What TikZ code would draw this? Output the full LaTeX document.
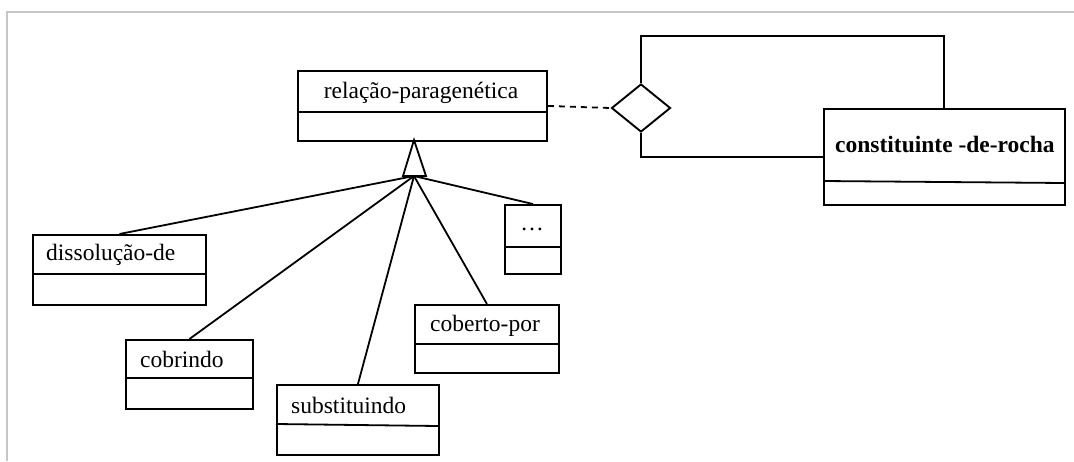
\documentclass[tikz,border=0pt]{standalone}
\usepackage{fontspec}
\setmainfont{Liberation Serif}
\usetikzlibrary{shapes.geometric}
\tikzset{
  umlbox/.style={draw, line width=1.9pt, inner sep=0pt, anchor=north west},
  lbl/.style={font=\fontsize{23.5}{28}\selectfont, inner sep=0pt, anchor=base west},
  conn/.style={line width=1.8pt},
  frame/.style={draw=black!22, line width=2pt},
}
\begin{document}
\begin{tikzpicture}[x=1pt,y=-1pt]
\useasboundingbox (0,0) rectangle (1074,461);
\draw[frame] (7,461) -- (7,12) -- (1074,12);

% classes
\node[umlbox, minimum width=249, minimum height=70] (rel) at (297,70) {};
\draw[conn] (297,112) -- (546,112);
\node[lbl, anchor=base] (relt) at (421,98) {relação-paragenética};

\node[umlbox, minimum width=241, minimum height=96] (cdr) at (823,108) {};
\draw[conn] (823,181) -- (1064,183);
\node[lbl, anchor=base west, font=\fontsize{23.5}{28}\selectfont\bfseries] (cdrt) at (835,152) {constituinte -de-rocha};

\node[umlbox, minimum width=173, minimum height=70] (dis) at (32,234) {};
\draw[conn] (32,274) -- (205,274);
\node[lbl] (dist) at (46,260) {dissolução-de};

\node[umlbox, minimum width=127, minimum height=69] (cob) at (125,339) {};
\draw[conn] (125,378) -- (252,378);
\node[lbl] (cobt) at (140,367) {cobrindo};

\node[umlbox, minimum width=162, minimum height=70] (sub) at (276,384) {};
\draw[conn] (276,424) -- (438,426);
\node[lbl] (subt) at (291,413) {substituindo};

\node[umlbox, minimum width=144, minimum height=68] (cpo) at (414,304) {};
\draw[conn] (414,344) -- (558,344);
\node[lbl] (cpot) at (430,331) {coberto-por};

\node[umlbox, minimum width=56, minimum height=69] (etc) at (504,204) {};
\draw[conn] (504,247) -- (560,247);
\node[lbl, anchor=center] (etct) at (532,229) {…};

% generalization
\coordinate (apex) at (414,140);
\coordinate (tb) at (414,176);
\draw[conn, line join=miter] (apex) -- (403,176) -- (426,176) -- cycle;
\draw[conn] (tb) -- (dis.north);
\draw[conn] (tb) -- (cob.north);
\draw[conn] (tb) -- (sub.north);
\draw[conn] (tb) -- (cpo.north);
\draw[conn] (tb) -- (etc.north);

% association diamond
\node[draw, diamond, line width=1.9pt, inner sep=0pt, minimum width=59, minimum height=48] (dia) at (641,108) {};
\draw[conn, dashed, dash pattern=on 6pt off 5pt] (rel.east) -- (dia.west);
\coordinate (tp) at (944,36);
\draw[conn] (dia.north) |- (tp) -- (tp |- cdr.north);
\draw[conn] (dia.south) |- (cdr.west);
\end{tikzpicture}
\end{document}
